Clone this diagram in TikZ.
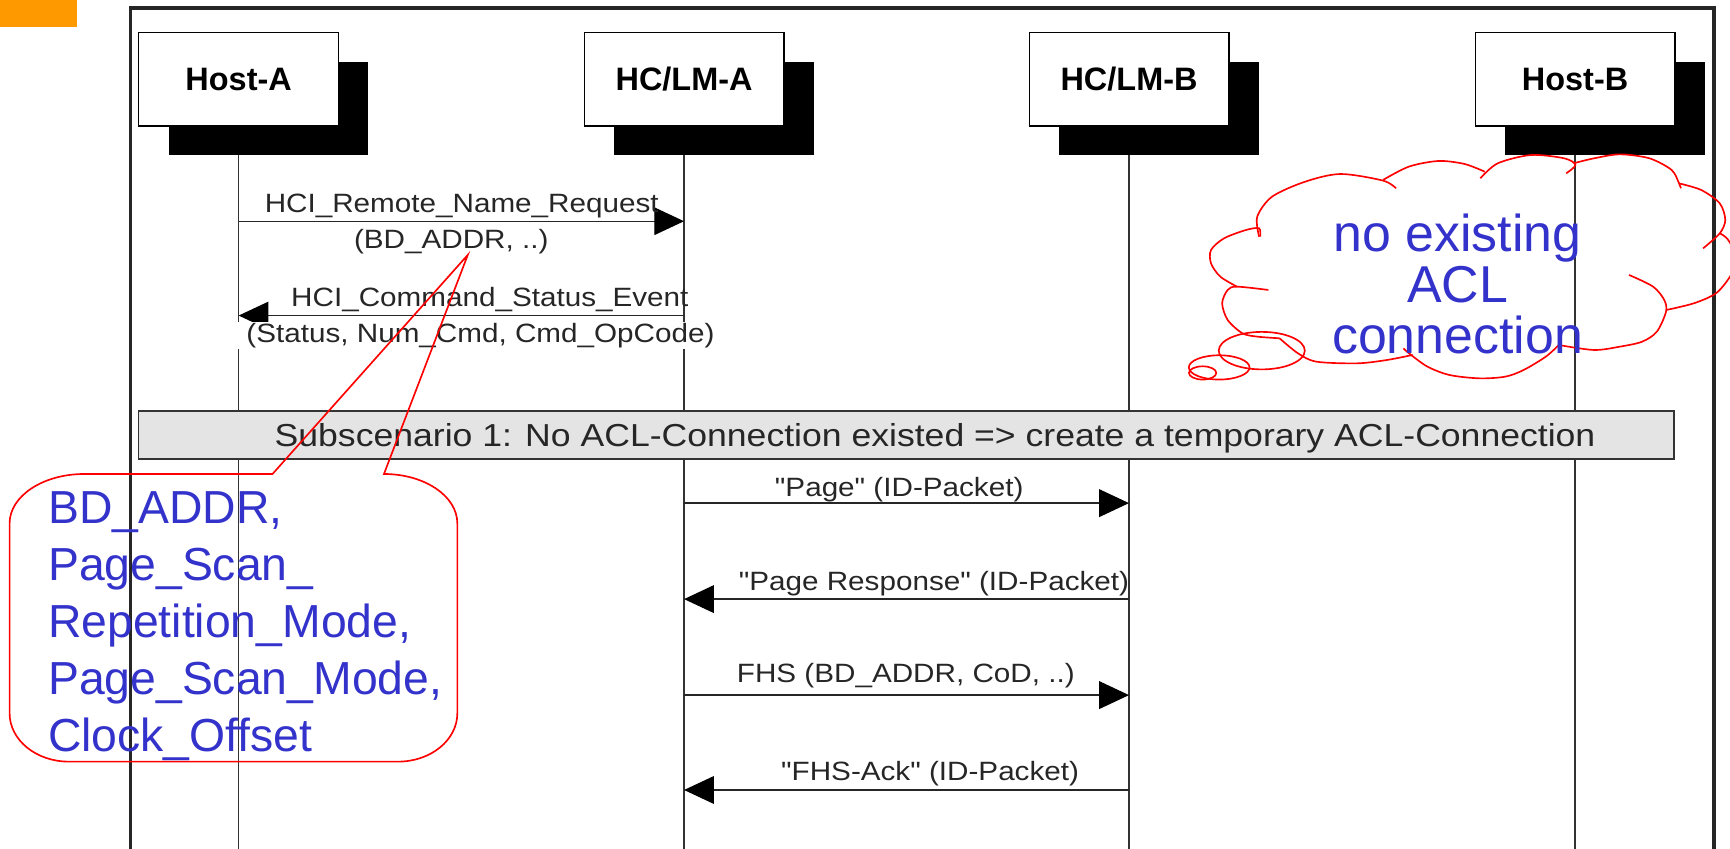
\documentclass[tikz,border=0pt]{standalone}
\usepackage{fontspec}
\setmainfont{Liberation Sans}
\newfontfamily\msgfont{Liberation Sans}[FakeStretch=1.12]
\usetikzlibrary{arrows.meta,shadows,backgrounds}
\definecolor{calloutblue}{RGB}{51,51,204}
\definecolor{barfill}{RGB}{228,228,228}
\definecolor{orangebar}{RGB}{255,153,0}
\tikzset{
  actor/.style={draw=black, line width=1.2pt, fill=white, minimum width=181pt, minimum height=85pt,
    inner sep=0pt, font=\fontsize{29.4}{32}\selectfont\bfseries,
    general shadow={fill=black, shadow xshift=27pt, shadow yshift=-26.5pt}},
  lifeline/.style={draw=black!80, line width=1.3pt},
  msg/.style={draw=black!85, line width=1.3pt, -{Triangle[length=27pt,width=25pt,color=black]}},
  lbl/.style={font=\msgfont\fontsize{24}{28}\selectfont, inner sep=0pt, anchor=base, text=black!85},
  subbar/.style={draw=black!80, line width=1.5pt, fill=barfill, minimum width=1392pt, minimum height=43.5pt, inner sep=0pt},
  subtxt/.style={font=\msgfont\fontsize{28.8}{32}\selectfont, inner sep=0pt, anchor=base, text=black!85},
  note/.style={draw=red, line width=1.5pt},
  bluetxt/.style={text=calloutblue, inner sep=0pt, align=left},
  cloudtxt/.style={text=calloutblue, inner sep=0pt, align=center}
}
\begin{document}
\begin{tikzpicture}[x=1pt,y=1pt]
\useasboundingbox (0,0) rectangle (1568,-769);
\clip (0,0) rectangle (1568,-769);
% orange tab
\fill[orangebar] (0,0) rectangle (69.4,-24.2);
% frame
\draw[line width=3pt, black!85] (118,-790) -- (118,-7.3) -- (1553.5,-7.3) -- (1553.5,-790);
% actors
\node[actor] (hostA) at (216.3,-71.75) {Host-A};
\node[actor] (hclmA) at (620,-71.75) {HC/LM-A};
\node[actor] (hclmB) at (1023.3,-71.75) {HC/LM-B};
\node[actor] (hostB) at (1427.6,-71.75) {Host-B};
\coordinate (bot) at (0,-800);
\begin{scope}[on background layer]
\draw[lifeline] (hostA.south) -- (hostA |- bot);
\draw[lifeline] (hclmA.south) -- (hclmA |- bot);
\draw[lifeline] (hclmB.south) -- (hclmB |- bot);
\draw[lifeline] (hostB.south) -- (hostB |- bot);
\end{scope}
% message rows
\coordinate (y1) at (0,-200.5);
\coordinate (y2) at (0,-286);
\coordinate (y3) at (0,-456);
\coordinate (y4) at (0,-543);
\coordinate (y5) at (0,-630);
\coordinate (y6) at (0,-716);
\draw[msg] (hostA |- y1) -- (hclmA |- y1);
\node[lbl] (l1a) at (418.5,-193) {HCI\_Remote\_Name\_Request};
\node[lbl] (l1b) at (409,-225) {(BD\_ADDR, ..)};
\draw[msg] (hclmA |- y2) -- (hostA |- y2);
\node[lbl] (l2a) at (444,-278) {HCI\_Command\_Status\_Event};
\node[lbl, fill=white, inner xsep=8pt, inner ysep=1pt] (l2b) at (435.5,-310) {(Status, Num\_Cmd, Cmd\_OpCode)};
% subscenario bar
\node[subbar] (sub) at (821.5,-394.25) {};
\node[subtxt] (subt) at (847.5,-405) {Subscenario 1: No ACL-Connection existed => create a temporary ACL-Connection};
\draw[msg] (hclmA |- y3) -- (hclmB |- y3);
\node[lbl] (l3) at (815,-450) {"Page" (ID-Packet)};
\draw[msg] (hclmB |- y4) -- (hclmA |- y4);
\node[lbl] (l4) at (846.5,-535) {"Page Response" (ID-Packet)};
\draw[msg] (hclmA |- y5) -- (hclmB |- y5);
\node[lbl] (l5) at (821,-619) {FHS (BD\_ADDR, CoD, ..)};
\draw[msg] (hclmB |- y6) -- (hclmA |- y6);
\node[lbl] (l6) at (843,-707) {"FHS-Ack" (ID-Packet)};
% left callout
\coordinate (ptr) at (424,-231);
\draw[note] (8.7,-646.5) -- (8.7,-474.3)
  arc[start angle=180,end angle=90,x radius=67.6,y radius=44.7]
  -- (247,-429.6) -- (ptr) -- (348,-429.6)
  arc[start angle=90,end angle=0,x radius=66.5,y radius=44.7]
  -- (414.5,-646.5)
  arc[start angle=0,end angle=-90,x radius=53.7,y radius=43.8]
  -- (62.4,-690.3)
  arc[start angle=-90,end angle=-180,x radius=53.7,y radius=43.8]
  -- cycle;
\node[bluetxt, anchor=base west, font=\fontsize{42}{51.7}\selectfont] (params) at (43.4,-681.1)
  {BD\_ADDR,\\Page\_Scan\_\\Repetition\_Mode,\\Page\_Scan\_Mode,\\Clock\_Offset};
% cloud
\begin{scope}[note]
\draw plot[smooth] coordinates {(1141.2,-214.5) (1139.5,-196.4) (1153,-178.2) (1183.1,-164.6) (1215,-157.7) (1253.5,-163.7) (1265.3,-170.7)};
\draw plot[smooth] coordinates {(1253.5,-163.1) (1277,-151) (1303.8,-145.9) (1327.3,-148.6) (1345.7,-155.6)};
\draw plot[smooth] coordinates {(1341.7,-161.6) (1357.5,-148) (1387.7,-140.5) (1417.8,-143.5) (1427.9,-149.5) (1419.5,-157.1)};
\draw plot[smooth] coordinates {(1426.2,-148) (1444.7,-143.5) (1468.1,-139.9) (1495,-143.5) (1515.1,-154.1) (1521.8,-166.2) (1523.5,-170.7)};
\draw plot[smooth] coordinates {(1521.8,-166.2) (1541.9,-172.2) (1558.7,-184.3) (1563.7,-199.4) (1558.7,-211.5) (1543.6,-225.1)};
\draw plot[smooth] coordinates {(1558.7,-211.5) (1566,-217) (1575,-235) (1568,-250.7) (1555.3,-265.8) (1535.2,-274.9) (1510,-281)};
\draw plot[smooth] coordinates {(1476.5,-249.2) (1498.3,-259.8) (1508.4,-271.9) (1510,-282.5) (1501.7,-300.6) (1488.3,-309.7) (1468.1,-314.2) (1444.7,-317.2) (1412.8,-312.7)};
\draw plot[smooth] coordinates {(1412.8,-312.7) (1401.1,-323.2) (1381,-335.3) (1364.2,-341.4) (1340.7,-342.9) (1313.9,-339.9) (1293.8,-332.3) (1277,-320.2) (1272,-315.7)};
\draw plot[smooth] coordinates {(1280.4,-321.7) (1256.9,-326.3) (1230.1,-329.3) (1193.2,-327.8) (1176.4,-320.2) (1159.7,-306.6)};
\draw plot[smooth] coordinates {(1159.7,-306.6) (1139.5,-305.1) (1126.1,-302.1) (1112.7,-290) (1107.7,-274.9) (1112.7,-262.8) (1121.1,-259.8) (1149.6,-262.8)};
\draw plot[smooth] coordinates {(1121.1,-259.8) (1106,-250.7) (1097.6,-238.7) (1097.6,-226.6) (1109.4,-216) (1129.5,-208.4) (1141.2,-206.9) (1142.2,-214.5)};
\draw (1143.6,-317.8) ellipse [x radius=39, y radius=17];
\draw (1105,-333) ellipse [x radius=27.5, y radius=11];
\draw (1090,-338) ellipse [x radius=12.4, y radius=6];
\end{scope}
\node[cloudtxt, anchor=base, font=\fontsize{47}{46}\selectfont] (cloudt) at (1321,-320)
  {no existing\\ACL\\connection};
\end{tikzpicture}
\end{document}
